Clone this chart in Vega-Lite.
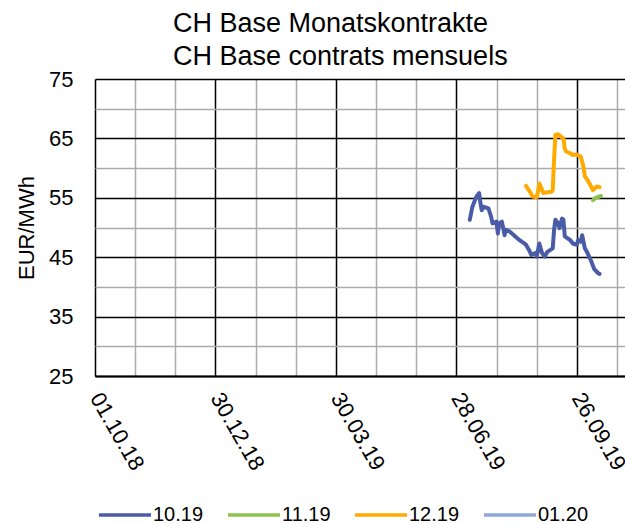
{
  "$schema": "https://vega.github.io/schema/vega-lite/v6.json",
  "width": 530,
  "height": 297,
  "autosize": {"type": "none"},
  "padding": {"left": 95, "top": 79, "right": 0, "bottom": 148},
  "background": "white",
  "title": {
    "text": ["CH Base Monatskontrakte", "CH Base contrats mensuels"],
    "anchor": "start",
    "frame": "group",
    "dx": 78,
    "offset": -3,
    "fontSize": 27,
    "lineHeight": 33,
    "fontWeight": "normal",
    "color": "#000000",
    "font": "Liberation Sans"
  },
  "config": {
    "font": "Liberation Sans",
    "view": {"stroke": null},
    "axis": {"labelColor": "#000000", "titleColor": "#000000", "labelFont": "Liberation Sans", "titleFont": "Liberation Sans"}
  },
  "data": {
    "values": [
      {"date": "2019-07-08", "price": 51.3, "contract": "10.19"},
      {"date": "2019-07-10", "price": 53.5, "contract": "10.19"},
      {"date": "2019-07-13", "price": 55.2, "contract": "10.19"},
      {"date": "2019-07-15", "price": 55.8, "contract": "10.19"},
      {"date": "2019-07-16", "price": 54.1, "contract": "10.19"},
      {"date": "2019-07-17", "price": 52.9, "contract": "10.19"},
      {"date": "2019-07-18", "price": 53.5, "contract": "10.19"},
      {"date": "2019-07-22", "price": 53.2, "contract": "10.19"},
      {"date": "2019-07-24", "price": 51.8, "contract": "10.19"},
      {"date": "2019-07-25", "price": 50.7, "contract": "10.19"},
      {"date": "2019-07-28", "price": 51.0, "contract": "10.19"},
      {"date": "2019-07-29", "price": 49.0, "contract": "10.19"},
      {"date": "2019-07-30", "price": 50.7, "contract": "10.19"},
      {"date": "2019-08-01", "price": 51.0, "contract": "10.19"},
      {"date": "2019-08-02", "price": 49.9, "contract": "10.19"},
      {"date": "2019-08-03", "price": 48.7, "contract": "10.19"},
      {"date": "2019-08-04", "price": 49.6, "contract": "10.19"},
      {"date": "2019-08-07", "price": 49.3, "contract": "10.19"},
      {"date": "2019-08-10", "price": 48.7, "contract": "10.19"},
      {"date": "2019-08-14", "price": 47.9, "contract": "10.19"},
      {"date": "2019-08-19", "price": 47.1, "contract": "10.19"},
      {"date": "2019-08-22", "price": 45.9, "contract": "10.19"},
      {"date": "2019-08-23", "price": 45.4, "contract": "10.19"},
      {"date": "2019-08-26", "price": 45.7, "contract": "10.19"},
      {"date": "2019-08-27", "price": 45.1, "contract": "10.19"},
      {"date": "2019-08-29", "price": 47.3, "contract": "10.19"},
      {"date": "2019-08-31", "price": 45.7, "contract": "10.19"},
      {"date": "2019-09-02", "price": 45.1, "contract": "10.19"},
      {"date": "2019-09-04", "price": 45.9, "contract": "10.19"},
      {"date": "2019-09-08", "price": 46.5, "contract": "10.19"},
      {"date": "2019-09-09", "price": 49.6, "contract": "10.19"},
      {"date": "2019-09-10", "price": 51.3, "contract": "10.19"},
      {"date": "2019-09-12", "price": 50.7, "contract": "10.19"},
      {"date": "2019-09-13", "price": 49.9, "contract": "10.19"},
      {"date": "2019-09-15", "price": 51.5, "contract": "10.19"},
      {"date": "2019-09-16", "price": 51.3, "contract": "10.19"},
      {"date": "2019-09-17", "price": 48.5, "contract": "10.19"},
      {"date": "2019-09-21", "price": 47.9, "contract": "10.19"},
      {"date": "2019-09-23", "price": 47.3, "contract": "10.19"},
      {"date": "2019-09-26", "price": 47.1, "contract": "10.19"},
      {"date": "2019-09-27", "price": 47.9, "contract": "10.19"},
      {"date": "2019-09-29", "price": 47.6, "contract": "10.19"},
      {"date": "2019-09-30", "price": 48.7, "contract": "10.19"},
      {"date": "2019-10-02", "price": 46.5, "contract": "10.19"},
      {"date": "2019-10-04", "price": 45.7, "contract": "10.19"},
      {"date": "2019-10-07", "price": 44.2, "contract": "10.19"},
      {"date": "2019-10-09", "price": 43.0, "contract": "10.19"},
      {"date": "2019-10-12", "price": 42.3, "contract": "10.19"},
      {"date": "2019-10-13", "price": 42.2, "contract": "10.19"},
      {"date": "2019-10-08", "price": 54.6, "contract": "11.19"},
      {"date": "2019-10-10", "price": 55.0, "contract": "11.19"},
      {"date": "2019-10-14", "price": 55.3, "contract": "11.19"},
      {"date": "2019-08-19", "price": 57.0, "contract": "12.19"},
      {"date": "2019-08-22", "price": 56.0, "contract": "12.19"},
      {"date": "2019-08-24", "price": 55.2, "contract": "12.19"},
      {"date": "2019-08-27", "price": 55.1, "contract": "12.19"},
      {"date": "2019-08-28", "price": 56.0, "contract": "12.19"},
      {"date": "2019-08-29", "price": 57.4, "contract": "12.19"},
      {"date": "2019-08-30", "price": 56.9, "contract": "12.19"},
      {"date": "2019-09-01", "price": 55.8, "contract": "12.19"},
      {"date": "2019-09-03", "price": 55.9, "contract": "12.19"},
      {"date": "2019-09-07", "price": 56.0, "contract": "12.19"},
      {"date": "2019-09-08", "price": 56.3, "contract": "12.19"},
      {"date": "2019-09-09", "price": 61.4, "contract": "12.19"},
      {"date": "2019-09-10", "price": 65.6, "contract": "12.19"},
      {"date": "2019-09-12", "price": 65.7, "contract": "12.19"},
      {"date": "2019-09-14", "price": 65.3, "contract": "12.19"},
      {"date": "2019-09-16", "price": 65.0, "contract": "12.19"},
      {"date": "2019-09-17", "price": 63.3, "contract": "12.19"},
      {"date": "2019-09-18", "price": 62.8, "contract": "12.19"},
      {"date": "2019-09-21", "price": 62.5, "contract": "12.19"},
      {"date": "2019-09-23", "price": 62.2, "contract": "12.19"},
      {"date": "2019-09-26", "price": 62.3, "contract": "12.19"},
      {"date": "2019-09-29", "price": 61.9, "contract": "12.19"},
      {"date": "2019-10-01", "price": 60.2, "contract": "12.19"},
      {"date": "2019-10-02", "price": 58.6, "contract": "12.19"},
      {"date": "2019-10-04", "price": 58.0, "contract": "12.19"},
      {"date": "2019-10-06", "price": 57.2, "contract": "12.19"},
      {"date": "2019-10-08", "price": 56.3, "contract": "12.19"},
      {"date": "2019-10-11", "price": 56.9, "contract": "12.19"},
      {"date": "2019-10-13", "price": 56.8, "contract": "12.19"}
    ]
  },
  "layer": [
    {
      "mark": {"type": "point", "opacity": 0},
      "encoding": {
        "x": {
          "field": "date", "type": "temporal",
          "scale": {"type": "utc", "domain": [{"year": 2018, "month": 10, "date": 1, "utc": true}, {"year": 2019, "month": 11, "date": 1, "utc": true}], "nice": false},
          "axis": {
            "orient": "bottom", "title": null, "labels": false, "ticks": false, "domain": false,
            "grid": true, "gridColor": "#ABABAB", "gridWidth": 1.5,
            "values": [
              {"year": 2018, "month": 10, "date": 31, "utc": true},
              {"year": 2018, "month": 11, "date": 30, "utc": true},
              {"year": 2019, "month": 1, "date": 29, "utc": true},
              {"year": 2019, "month": 2, "date": 28, "utc": true},
              {"year": 2019, "month": 4, "date": 29, "utc": true},
              {"year": 2019, "month": 5, "date": 29, "utc": true},
              {"year": 2019, "month": 7, "date": 28, "utc": true},
              {"year": 2019, "month": 8, "date": 27, "utc": true},
              {"year": 2019, "month": 10, "date": 26, "utc": true}
            ]
          }
        },
        "y": {
          "field": "price", "type": "quantitative",
          "scale": {"domain": [25, 75], "nice": false, "zero": false},
          "axis": {
            "orient": "left", "title": null, "labels": false, "ticks": false, "domain": false,
            "grid": true, "gridColor": "#ABABAB", "gridWidth": 1.5,
            "values": [30, 40, 50, 60, 70]
          }
        }
      }
    },
    {
      "mark": {"type": "line", "strokeWidth": 4, "strokeCap": "round", "strokeJoin": "round"},
      "encoding": {
        "x": {
          "field": "date", "type": "temporal",
          "axis": {
            "orient": "bottom", "title": null, "ticks": false,
            "domain": true, "domainColor": "#000000", "domainWidth": 2,
            "grid": true, "gridColor": "#000000", "gridWidth": 1.5,
            "labelExpr": "utcFormat(datum.value, '%d.%m.%y')",
            "labelAngle": 60, "labelAlign": "left", "labelBaseline": "middle",
            "labelPadding": 18, "labelFontSize": 22, "labelFlush": false, "labelOverlap": false,
            "values": [
              {"year": 2018, "month": 10, "date": 1, "utc": true},
              {"year": 2018, "month": 12, "date": 30, "utc": true},
              {"year": 2019, "month": 3, "date": 30, "utc": true},
              {"year": 2019, "month": 6, "date": 28, "utc": true},
              {"year": 2019, "month": 9, "date": 26, "utc": true}
            ]
          }
        },
        "y": {
          "field": "price", "type": "quantitative",
          "axis": {
            "orient": "left", "title": "EUR/MWh", "titleFontSize": 22, "titleFontWeight": "normal", "titlePadding": 10,
            "ticks": false, "domain": false,
            "grid": true, "gridColor": "#000000", "gridWidth": 1.5,
            "labelFontSize": 22, "labelPadding": 22, "labelFlush": false,
            "values": [25, 35, 45, 55, 65, 75]
          }
        },
        "color": {
          "field": "contract", "type": "nominal",
          "scale": {"domain": ["10.19", "11.19", "12.19", "01.20"], "range": ["#4A5CA8", "#8CC34F", "#FFAA00", "#8FA7DA"]},
          "legend": {
            "title": null, "orient": "none", "legendX": 2, "legendY": 408, "direction": "horizontal",
            "symbolType": "stroke", "symbolSize": 2704, "symbolStrokeWidth": 3.5,
            "labelFontSize": 20, "labelOffset": 0, "columnPadding": 17, "labelColor": "#000000", "labelLimit": 200
          }
        }
      }
    }
  ],
  "resolve": {"axis": {"x": "independent", "y": "independent"}}
}
